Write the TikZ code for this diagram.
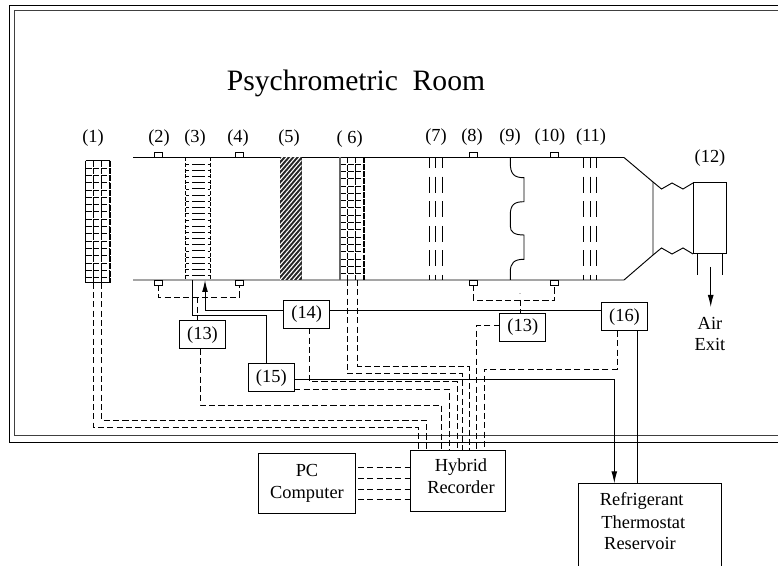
\documentclass[tikz,border=0pt]{standalone}
\usepackage{fontspec}
\setmainfont{Liberation Serif}
\usetikzlibrary{arrows.meta}
\tikzset{
  every picture/.style={x=0.75pt,y=-0.75pt},
  ln/.style={line width=0.7pt,black},
  dsh/.style={line width=0.7pt,black,dash pattern=on 4.6pt off 2.4pt},
  arr/.style={ln,-{Latex[length=9pt,width=4.4pt]}},
  boxn/.style={draw,line width=0.75pt,inner sep=0pt,outer sep=0pt,font=\fontsize{13.8pt}{16pt}\selectfont},
  numbox/.style={boxn,minimum width=34.5pt,minimum height=21pt},
  sensor/.style={draw,line width=0.6pt,inner sep=0pt,outer sep=0pt,minimum width=6pt,minimum height=3.6pt,fill=white},
  lab/.style={inner sep=0pt,font=\fontsize{13.8pt}{16pt}\selectfont},
  multi/.style={align=center,inner sep=0pt,font=\fontsize{13.8pt}{16.3pt}\selectfont},
  gridh/.style={line width=0.5pt,black,dash pattern=on 4.6pt off 1.1pt},
  griddash/.style={line width=0.5pt,black,dash pattern=on 4.4pt off 1.1pt},
  vane/.style={line width=0.7pt,black,dash pattern=on 12pt off 6.4pt,dash phase=4pt}
}
\begin{document}
\begin{tikzpicture}
\useasboundingbox (0,0) rectangle (778,566);
% room walls
\draw[line width=0.75pt] (778,5.5) -- (9,5.5) -- (9,442.5) -- (778,442.5);
\draw[line width=0.75pt,black!75] (778,10.5) -- (14.5,10.5) -- (14.5,435) -- (778,435);
\node[lab,font=\fontsize{22.2pt}{25pt}\selectfont] (title) at (356,83) {Psychrometric\ \ Room};
% duct
\draw[ln] (133,157.5) -- (624,157.5) -- (653,182) -- (653,255) -- (624,280) -- (133,280);
\draw[ln] (653,182) -- (661.5,189) -- (672,183) -- (683,189) -- (693,183);
\draw[ln] (653,255) -- (661.5,248) -- (672,254) -- (683,248) -- (693,254);
% item 1 : grid
\foreach \y in {168,175.3,...,282}{\draw[gridh] (85.7,\y) -- (110,\y);}
\foreach \x in {93.3,101}{\draw[griddash] (\x,161) -- (\x,282.7);}
\draw[line width=0.7pt] (85.7,160.7) -- (110,160.7);
\draw[line width=0.7pt] (85.7,282.7) -- (110,282.7);
\draw[line width=0.6pt] (85.7,160.7) -- (85.7,282.7);
\draw[griddash,line width=0.8pt] (110,160.7) -- (110,282.7);
% item 3 : horizontal bars
\foreach \y in {164,170.2,...,279}{
  \draw[line width=0.5pt] (192,\y) -- (205,\y);
  \draw[line width=0.4pt] (185.7,\y) -- (188.5,\y);
  \draw[line width=0.4pt] (207.5,\y) -- (210,\y);}
\draw[line width=0.5pt,dash pattern=on 3pt off 1.2pt] (185.7,157.5) -- (185.7,280);
\draw[line width=0.5pt,dash pattern=on 3pt off 1.2pt] (210,157.5) -- (210,280);
% item 5 : hatched
\fill[black!85] (280,157.5) rectangle (301.7,280);
\begin{scope}
\clip (280,157.5) rectangle (301.7,280);
\foreach \k in {0,5,...,150}{\draw[white,line width=0.8pt] (280,160+\k) -- (301.7,135+\k);}
\end{scope}
% item 6 : grid
\foreach \y in {164,171.3,...,279}{\draw[gridh] (340,\y) -- (364,\y);}
\foreach \x in {347.3,355.5}{\draw[griddash] (\x,157.5) -- (\x,280);}
\draw[line width=1pt,black!60] (340,157.5) -- (340,280);
\draw[line width=1.1pt,dash pattern=on 4.4pt off 0.8pt] (364,157.5) -- (364,280);
% item 7, 11 : vanes
\foreach \x in {429,435.7,442,583.3,590,596.3}{\draw[vane] (\x,157.5) -- (\x,280);}
% item 9 : coil
\draw[ln] (510.3,157.5) -- (510.3,163) .. controls (510.3,174) and (514,177.7) .. (524,177.7)
  -- (524,201.7) .. controls (514,201.7) and (510.3,205) .. (510.3,215)
  -- (510.3,226) .. controls (510.3,232) and (514,235) .. (524,235)
  -- (524,259.3) .. controls (514,259.3) and (510.3,263) .. (510.3,272) -- (510.3,280);
% item 12
\node[boxn,minimum width=24.75pt,minimum height=53.25pt] (fan) at (709.5,218.5) {};
\coordinate (legA) at (697.7,275);
\coordinate (legB) at (722,275);
\draw[ln] (legA |- fan.south) -- (legA);
\draw[ln] (legB |- fan.south) -- (legB);
\coordinate (exitA) at (710.7,267);
\coordinate (exitB) at (710.7,307);
\draw[arr] (exitA) -- (exitB);
\node[multi] (airexit) at (710,334) {Air\\Exit};
% sensors
\node[sensor] (s2t) at (158.2,155.2) {};
\node[sensor] (s4t) at (239.6,155.2) {};
\node[sensor] (s8t) at (473.3,155.2) {};
\node[sensor] (s10t) at (554.7,155.2) {};
\node[sensor] (s2b) at (158.2,282.7) {};
\node[sensor] (s4b) at (239.6,282.7) {};
\node[sensor] (s8b) at (473.3,282.7) {};
\node[sensor] (s10b) at (554.7,282.7) {};
% item labels
\node[lab] (l1) at (93,138) {(1)};
\node[lab] (l2) at (159,138) {(2)};
\node[lab] (l3) at (195,138) {(3)};
\node[lab] (l4) at (238,138) {(4)};
\node[lab] (l5) at (289,138) {(5)};
\node[lab] (l6) at (349.6,139) {( 6)};
\node[lab] (l7) at (436,137) {(7)};
\node[lab] (l8) at (472,137) {(8)};
\node[lab] (l9) at (510,137) {(9)};
\node[lab] (l10) at (550,137) {(10)};
\node[lab] (l11) at (591,137) {(11)};
\node[lab] (l12) at (710,158) {(12)};
% boxes
\node[numbox] (b13a) at (202.5,334.7) {(13)};
\node[numbox] (b13b) at (522.8,327.2) {(13)};
\node[numbox] (b14) at (306.7,314.2) {(14)};
\node[numbox] (b15) at (271.3,377.7) {(15)};
\node[numbox,text depth=3pt] (b16) at (624.5,317) {(16)};
\node[boxn,multi,minimum width=73pt,minimum height=45pt] (pc) at (307,483.3) {PC\\Computer};
\node[boxn,minimum width=70.8pt,minimum height=45.8pt] (rec) at (457.9,480.8) {};
\node[multi] (rectext) at (461,476) {Hybrid\\Recorder};
\node[boxn,minimum width=107pt,minimum height=66.5pt] (ref) at (650,527.65) {};
\node[lab] (refa) at (641.7,501) {Refrigerant};
\node[lab] (refb) at (643.3,522) {Thermostat};
\node[lab] (refc) at (640,543.5) {Reservoir};
% named connector ends
\foreach \n/\x in {r1/418.7,r2/426.3,r3/441.7,r4/449,r5/457,r6/462,r7/469.3,r8/476.7,r9/484.3}{\coordinate (\n) at (\x,450.3);}
\foreach \n/\x in {i1a/93.3,i1b/101}{\coordinate (\n) at (\x,282.7);}
\foreach \n/\x in {i6a/347.3,i6b/357.7}{\coordinate (\n) at (\x,280);}
\coordinate (i3) at (192.7,280);
\coordinate (i3in) at (205,280);
\coordinate (tee1) at (197.7,297.3);
\coordinate (tee2) at (520,300);
% sensor connections
\draw[dsh] (s2b.south) -- (158.2,297.3) -- (239.6,297.3) -- (s4b.south);
\draw[dsh] (s8b.south) -- (473.3,300) -- (554.7,300) -- (s10b.south);
\draw[dsh] (tee1) -- (tee1 |- b13a.north);
\draw[dsh] (tee2) -- (tee2 |- b13b.north);
\fill (520,293.5) circle (0.35pt);
% solid controls
\draw[ln] (i3) -- (192.7,315.3) -- (266,315.3) -- (266,363.7);
\draw[arr] (b14.west |- 0,310.7) -- (205,310.7) -- (i3in);
\draw[ln] (b14.east |- 0,310.7) -- (b16.west |- 0,310.7);
\draw[arr] (b15.east |- 0,379) -- (614.3,379) -- (614.3,483.3);
\draw[ln] (637.3,331) -- (637.3,483.3);
% dashed signal runs to the recorder
\draw[dsh] (i1a) -- (93.3,427.5) -- (418.7,427.5) -- (r1);
\draw[dsh] (i1b) -- (101,420) -- (426.3,420) -- (r2);
\draw[dsh] (200,348.7) -- (200,405) -- (441.7,405) -- (r3);
\draw[dsh] (b15.east |- 0,389.5) -- (449,389.5) -- (r4);
\draw[dsh] (309.3,328.3) -- (309.3,381.5) -- (457,381.5) -- (r5);
\draw[dsh] (i6a) -- (347.3,373.7) -- (462,373.7) -- (r6);
\draw[dsh] (i6b) -- (357.7,366.3) -- (469.3,366.3) -- (r7);
\draw[dsh] (b13b.west |- 0,325.7) -- (476.7,325.7) -- (r8);
\draw[dsh] (617,331) -- (617,369) -- (484.3,369) -- (r9);
% pc to recorder
\foreach \y in {467.7,478,489,499}{\draw[dsh] (358,\y) -- (rec.west |- 0,\y);}
\end{tikzpicture}
\end{document}
